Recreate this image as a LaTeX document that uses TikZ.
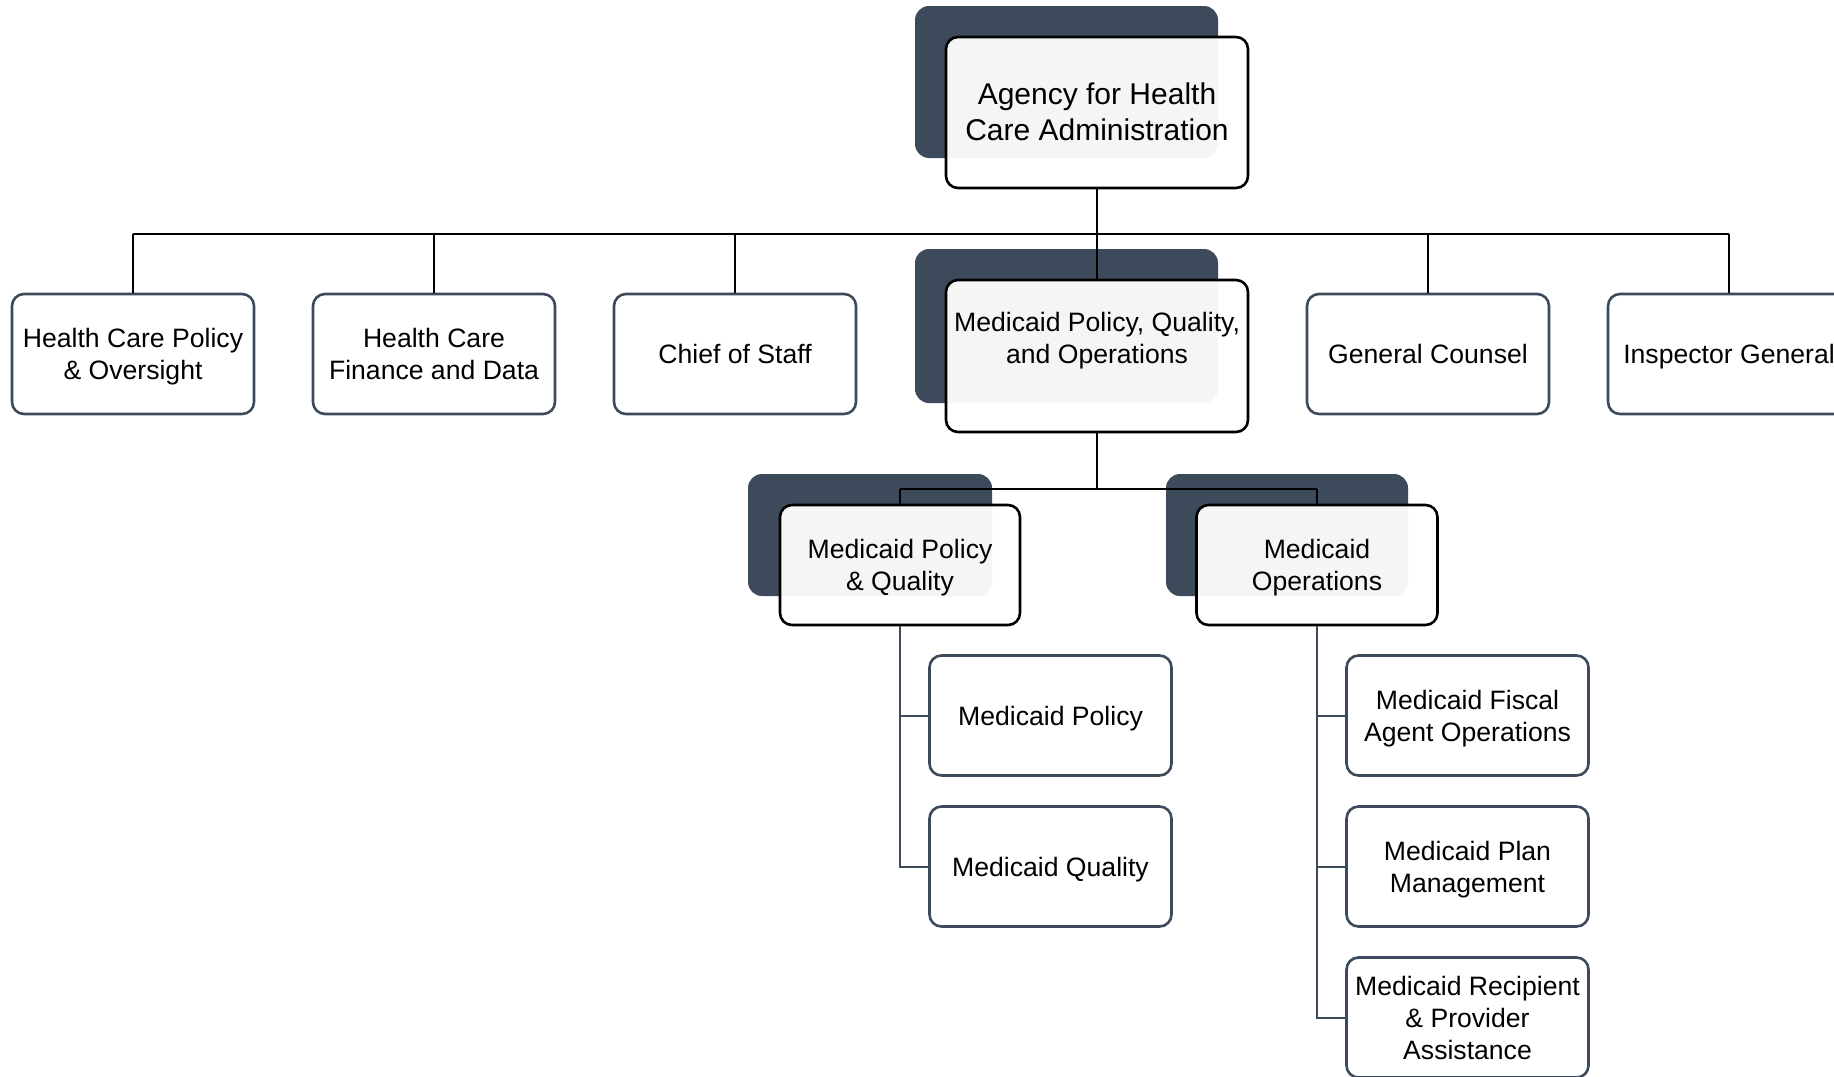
\documentclass[tikz,border=0pt]{standalone}
\usepackage{fontspec}
\setmainfont{Liberation Sans}
\definecolor{slate}{HTML}{3C4A5B}
\tikzset{
  darkbox/.style={fill=slate, draw=none, rounded corners=7pt, inner sep=0pt},
  frontbox/.style={draw=black, line width=1.3pt, fill=white, fill opacity=0.95, text opacity=1,
    rounded corners=6pt, align=center, inner sep=0pt},
  box/.style={draw=slate, line width=1.3pt, fill=white, rounded corners=6pt,
    minimum width=121pt, minimum height=60pt, align=center, inner sep=0pt, text depth=0pt,
    font=\fontsize{13.3}{16}\selectfont},
  conn/.style={draw=black, line width=1.2pt},
  subconn/.style={draw=slate, line width=1pt},
  txt/.style={align=center, inner sep=0pt, text depth=0pt, font=\fontsize{13.3}{16}\selectfont}
}
\begin{document}
\begin{tikzpicture}[x=0.5pt, y=-0.5pt]
\useasboundingbox (0,0) rectangle (1834,1076);
\clip (0,0) rectangle (1834,1076);
% shadow boxes
\node[darkbox, minimum width=151.5pt, minimum height=76pt] (topD) at (1066.5,82) {};
\node[darkbox, minimum width=151.5pt, minimum height=77pt] (mpqoD) at (1066.5,326) {};
\node[darkbox, minimum width=122pt, minimum height=61pt] (mpqD) at (870,535) {};
\node[darkbox, minimum width=121pt, minimum height=61pt] (moD) at (1287,535) {};
% coordinates
\coordinate (bus) at (0,234);
\coordinate (bus2) at (0,489);
% level 2 plain boxes
\node[box] (hcpo) at (133,354) {Health Care Policy\\\& Oversight};
\node[box] (hcfd) at (434,354) {Health Care\\Finance and Data};
\node[box] (cos) at (735,354) {Chief of Staff};
\node[box] (gc) at (1428,354) {General Counsel};
\node[box] (ig) at (1729,354) {Inspector General};
% children
\node[box] (mp) at (1050.5,715.5) {Medicaid Policy};
\node[box] (mq) at (1050.5,866.5) {Medicaid Quality};
\node[box] (mfao) at (1467.5,715.5) {Medicaid Fiscal\\Agent Operations};
\node[box] (mpm) at (1467.5,866.5) {Medicaid Plan\\Management};
\node[box] (mrpa) at (1467.5,1017.5) {Medicaid Recipient\\\& Provider\\Assistance};
% front boxes (shapes)
\node[frontbox, minimum width=151pt, minimum height=75.5pt] (top) at (1097,112.5) {};
\node[frontbox, minimum width=151pt, minimum height=76pt] (mpqo) at (1097,356) {};
\node[frontbox, minimum width=120pt, minimum height=60pt] (mpq) at (900,565) {};
\node[frontbox, minimum width=120.5pt, minimum height=60pt] (mo) at (1317,565) {};
% front texts
\node[txt, font=\fontsize{15}{18}\selectfont] (topT) at (1097,112) {Agency for Health\\Care Administration};
\node[txt] (mpqoT) at (1097,337.5) {Medicaid Policy, Quality,\\and Operations};
\node[txt] (mpqT) at (900,565) {Medicaid Policy\\\& Quality};
\node[txt] (moT) at (1317,565) {Medicaid\\Operations};
% top connectors
\draw[conn] (top.south) -- (top.south |- bus);
\draw[conn] (hcpo.north |- bus) -- (ig.north |- bus);
\foreach \n in {hcpo,hcfd,cos,gc,ig} { \draw[conn] (\n.north |- bus) -- (\n.north); }
\draw[conn] (mpqo.north |- bus) -- (mpqo.north);
% level 3 connectors
\draw[conn] (mpqo.south) -- (mpqo.south |- bus2);
\draw[conn] (mpq.north |- bus2) -- (mo.north |- bus2);
\draw[conn] (mpq.north |- bus2) -- (mpq.north);
\draw[conn] (mo.north |- bus2) -- (mo.north);
% child connectors
\draw[subconn] (mpq.south) -- (mpq.south |- mq.west) -- (mq.west);
\draw[subconn] (mpq.south |- mp.west) -- (mp.west);
\draw[subconn] (mo.south) -- (mo.south |- mrpa.west) -- (mrpa.west);
\draw[subconn] (mo.south |- mfao.west) -- (mfao.west);
\draw[subconn] (mo.south |- mpm.west) -- (mpm.west);
\end{tikzpicture}
\end{document}
